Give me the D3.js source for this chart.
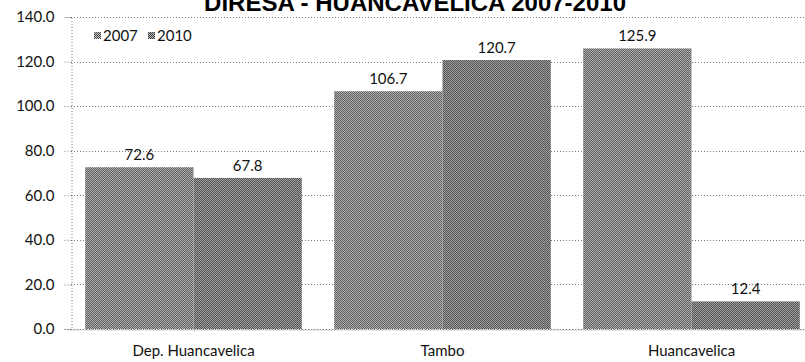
<!DOCTYPE html>
<html><head><meta charset="utf-8">
<script src="https://cdn.jsdelivr.net/npm/d3@7"></script>
<style>body{margin:0;background:#fff}svg{display:block}</style>
</head><body>
<svg id="c" width="805" height="362"></svg>
<script>
const categories = ["Dep. Huancavelica", "Tambo", "Huancavelica"];
const seriesNames = ["2007", "2010"];
const values2007 = [72.6, 106.7, 125.9];
const values2010 = [67.8, 120.7, 12.4];
const yTicks = [0, 20, 40, 60, 80, 100, 120, 140];
const title = "DIRESA - HUANCAVELICA 2007-2010";

const svg = d3.select("#c");
const font = "Lato, 'Open Sans', sans-serif";
const defs = svg.append("defs");
function pat(id, dark, light) {
  const p = defs.append("pattern").attr("id", id).attr("width", 2).attr("height", 2)
    .attr("patternUnits", "userSpaceOnUse");
  p.append("rect").attr("width", 2).attr("height", 2).attr("fill", light);
  p.append("rect").attr("width", 1).attr("height", 1).attr("fill", dark);
  p.append("rect").attr("x", 1).attr("y", 1).attr("width", 1).attr("height", 1).attr("fill", dark);
}
pat("p2007", "#4a4a4a", "#c4c4c4");
pat("p2010", "#3c3c3c", "#b6b6b6");
const fills = {"2007": "url(#p2007)", "2010": "url(#p2010)"};

const x0 = d3.scaleBand().domain(categories).range([69, 816]).paddingInner(0.13).paddingOuter(0.065);
const x1 = d3.scaleBand().domain(seriesNames).range([0, x0.bandwidth()]);
const y = d3.scaleLinear().domain([0, 140]).range([329, 17]);

// gridlines
svg.append("g").selectAll("line").data(yTicks).join("line")
  .attr("x1", 71).attr("x2", 805)
  .attr("y1", d => Math.round(y(d)) + 0.5).attr("y2", d => Math.round(y(d)) + 0.5)
  .attr("stroke", "#777").attr("stroke-width", 1).attr("stroke-dasharray", "1,2");

// y axis
const yAxis = d3.axisLeft(y).tickValues(yTicks).tickFormat(d3.format(".1f")).tickSize(7).tickPadding(10);
const ga = svg.append("g").attr("transform", "translate(71.5,0)").call(yAxis);
ga.select(".domain").attr("stroke", "#777").attr("stroke-dasharray", "1,2");
ga.selectAll(".tick line").attr("stroke", "#777").attr("stroke-dasharray", "1,2");
ga.selectAll("text").attr("font-family", font).attr("font-size", 15).attr("fill", "#111");

// bars
const data = categories.map((c, i) => ({cat: c, vals: [{s: "2007", v: values2007[i]}, {s: "2010", v: values2010[i]}]}));
const groups = svg.append("g").selectAll("g").data(data).join("g")
  .attr("transform", d => `translate(${x0(d.cat)},0)`);
groups.selectAll("rect").data(d => d.vals).join("rect")
  .attr("x", d => x1(d.s)).attr("width", x1.bandwidth())
  .attr("y", d => y(d.v)).attr("height", d => y(0) - y(d.v))
  .attr("fill", d => fills[d.s]);
groups.selectAll("text").data(d => d.vals).join("text")
  .attr("x", d => x1(d.s) + x1.bandwidth() / 2).attr("y", d => y(d.v) - 7)
  .attr("text-anchor", "middle").attr("font-family", font).attr("font-size", 15).attr("fill", "#111")
  .text(d => d.v.toFixed(1));

// x labels
const xAxis = d3.axisBottom(x0).tickSize(0).tickPadding(16);
const gx = svg.append("g").attr("transform", "translate(0,329.5)").call(xAxis);
gx.select(".domain").attr("stroke", "#777").attr("stroke-dasharray", "1,2");
gx.selectAll("text").attr("font-family", font).attr("font-size", 15).attr("fill", "#111");

// legend
const leg = svg.append("g").selectAll("g").data(seriesNames).join("g")
  .attr("transform", (d, i) => `translate(${94 + i * 54},0)`);
leg.append("rect").attr("x", 0).attr("y", 32).attr("width", 7).attr("height", 7).attr("fill", d => fills[d]);
leg.append("text").attr("x", 9).attr("y", 41).attr("font-family", font).attr("font-size", 15).attr("fill", "#111").text(d => d);

// title (cut at top)
svg.append("text").attr("x", 626).attr("y", 11).attr("text-anchor", "end")
  .attr("font-family", "'Liberation Sans', Arial, sans-serif").attr("font-weight", "bold")
  .attr("font-size", 24).attr("fill", "#000").text(title);
</script>
</body></html>
